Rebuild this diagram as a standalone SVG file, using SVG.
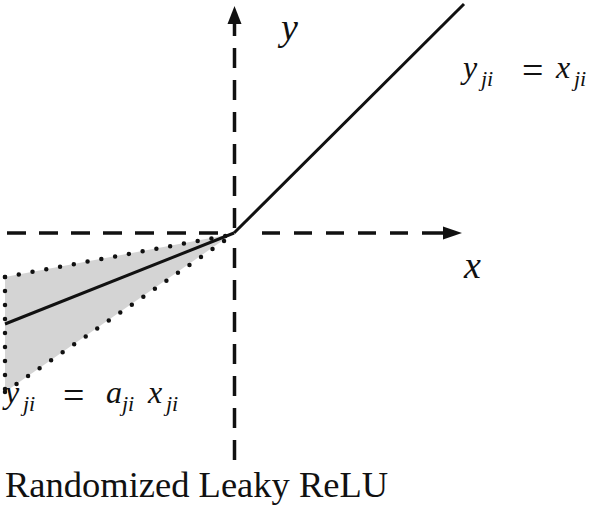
<svg xmlns="http://www.w3.org/2000/svg" width="615" height="505" viewBox="0 0 615 505">
<style>
.axis{stroke:#111;stroke-width:3.5;fill:none}
.solid{stroke:#111;stroke-width:3;fill:none}
.head{fill:#111;stroke:none}
.dot{stroke:#111;stroke-width:4.5;fill:none;stroke-dasharray:0 14;stroke-linecap:round}
text{font-family:"Liberation Serif","Times New Roman",Times,serif;fill:#111}
.m{font-style:italic}
</style>
<rect width="615" height="505" fill="#fff"/>
<g id="region">
  <polygon points="232,234 5,277 5,392" fill="#d4d4d4"/>
  <line class="dot" x1="5" y1="277" x2="230" y2="235"/>
  <line class="dot" x1="5" y1="392" x2="230" y2="237"/>
  <line class="dot" x1="5" y1="277" x2="5" y2="392"/>
</g>
<g id="connectors">
  <line class="axis" x1="7" y1="233" x2="218" y2="233" stroke-dasharray="19 13"/>
  <line class="axis" x1="262" y1="233" x2="420" y2="233" stroke-dasharray="18 14"/>
  <line class="axis" x1="422" y1="233" x2="446" y2="233"/>
  <polygon class="head" points="462,233 443,226.5 443,239.5"/>
  <line class="axis" x1="234.5" y1="48" x2="234.5" y2="228" stroke-dasharray="20 12"/>
  <line class="axis" x1="234.5" y1="248" x2="234.5" y2="461" stroke-dasharray="20 12"/>
  <line class="axis" x1="234.5" y1="20" x2="234.5" y2="36"/>
  <polygon class="head" points="234.5,6 227.5,24 241.5,24"/>
</g>
<g id="function">
  <line class="solid" x1="234" y1="233" x2="464" y2="4"/>
  <line class="solid" x1="234" y1="233" x2="5" y2="324"/>
</g>
<g id="labels">
  <text class="m" x="281" y="40" font-size="38">y</text>
  <text class="m" x="464" y="278" font-size="38">x</text>
  <text class="m" x="463" y="78" font-size="32">y</text>
  <text class="m" x="481" y="86" font-size="22">ji</text>
  <text x="522" y="83" font-size="38">=</text>
  <text class="m" x="556" y="78" font-size="32">x</text>
  <text class="m" x="574" y="86" font-size="22">ji</text>
  <text class="m" x="5" y="403" font-size="32">y</text>
  <text class="m" x="23" y="411" font-size="22">ji</text>
  <text x="63" y="408" font-size="38">=</text>
  <text class="m" x="106" y="403" font-size="32">a</text>
  <text class="m" x="122" y="411" font-size="22">ji</text>
  <text class="m" x="148" y="403" font-size="32">x</text>
  <text class="m" x="166" y="411" font-size="22">ji</text>
  <text x="5" y="497" font-size="36.5">Randomized Leaky ReLU</text>
</g>
</svg>
